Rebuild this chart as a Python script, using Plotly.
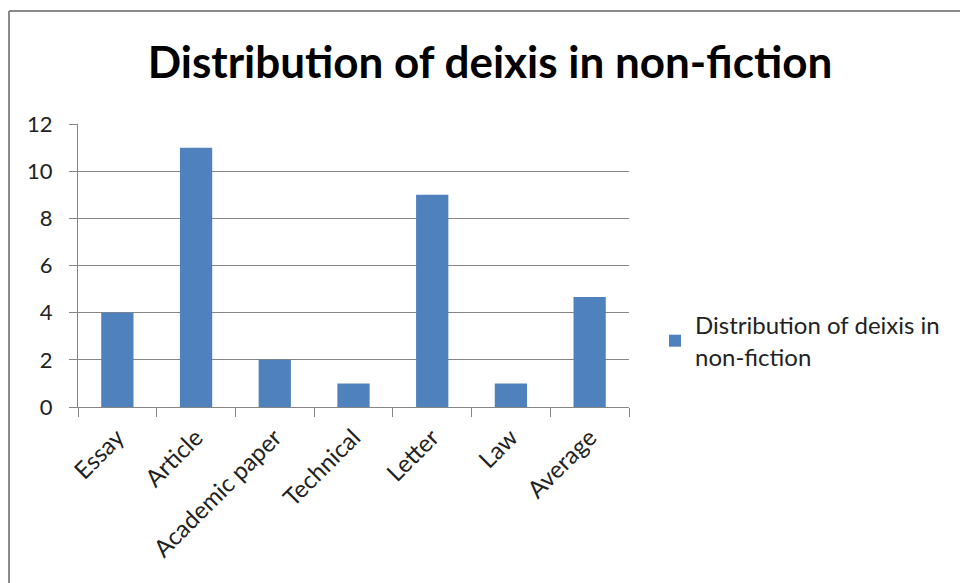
import plotly.graph_objects as go

categories = ["Essay", "Article", "Academic paper", "Technical", "Letter", "Law", "Average"]
values = [4, 11, 2, 1, 9, 1, 4.67]
series_name = "Distribution of deixis in<br>non-fiction"
title_text = "Distribution of deixis in non-fiction"
y_ticks = [0, 2, 4, 6, 8, 10, 12]

W, H = 960, 583
L, R, T, B = 78, 331, 124, 176
PW, PH = W - L - R, H - T - B
axis_grey = "#868686"
font_family = "Lato, 'Open Sans', sans-serif"

fig = go.Figure()
fig.add_trace(go.Bar(
    x=categories,
    y=values,
    name=series_name,
    marker=dict(color="#4F81BD", line=dict(width=0)),
    width=0.41,
    showlegend=True,
))

fig.update_layout(
    width=W,
    height=H,
    margin=dict(l=L, r=R, t=T, b=B, pad=0),
    paper_bgcolor="white",
    plot_bgcolor="white",
    font=dict(family=font_family, color="#222222"),
    title=dict(
        text=f"<b>{title_text}</b>",
        font=dict(size=44, color="black", family=font_family),
        x=490 / W,
        xanchor="center",
        y=1 - 63 / H,
        yanchor="middle",
        xref="container",
        yref="container",
    ),
    showlegend=True,
    legend=dict(
        x=(655 - L) / PW,
        y=0.5 - (341 - (T + PH / 2)) / PH,
        xanchor="left",
        yanchor="middle",
        font=dict(size=24, color="#222222", family=font_family),
        bgcolor="rgba(0,0,0,0)",
        itemsizing="constant",
    ),
    xaxis=dict(
        type="category",
        tickson="boundaries",
        ticks="outside",
        ticklen=9,
        tickcolor=axis_grey,
        tickwidth=1,
        showline=True,
        linecolor=axis_grey,
        linewidth=1,
        showgrid=False,
        tickangle=-45,
        ticklabelstandoff=6,
        tickfont=dict(size=24, color="#222222", family=font_family),
        fixedrange=True,
    ),
    yaxis=dict(
        range=[0, 12.002],
        tickvals=y_ticks,
        ticks="outside",
        ticklen=8,
        tickcolor=axis_grey,
        tickwidth=1,
        showline=True,
        linecolor=axis_grey,
        linewidth=1,
        showgrid=True,
        gridcolor=axis_grey,
        gridwidth=1,
        zeroline=False,
        ticklabelstandoff=12,
        tickfont=dict(size=22, color="#222222", family=font_family),
        fixedrange=True,
    ),
    shapes=[
        dict(type="line", xref="paper", yref="paper",
             x0=(9 - L) / PW, x1=(W + 5 - L) / PW,
             y0=1 + (T - 11) / PH, y1=1 + (T - 11) / PH,
             line=dict(color="#8a8a8a", width=2)),
        dict(type="line", xref="paper", yref="paper",
             x0=(9 - L) / PW, x1=(9 - L) / PW,
             y0=1 + (T - 11) / PH, y1=-(B + 5) / PH,
             line=dict(color="#8a8a8a", width=2)),
    ],
)

fig.write_html("out.html")
